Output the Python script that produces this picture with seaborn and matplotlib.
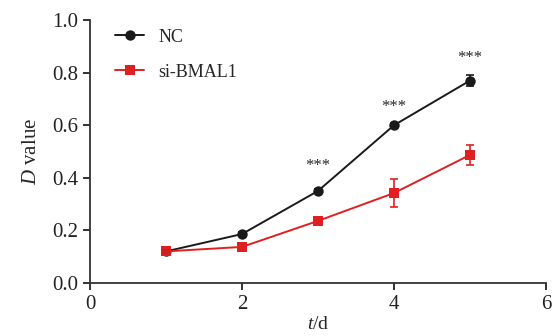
import matplotlib
matplotlib.use("Agg")
import matplotlib.pyplot as plt
import seaborn as sns
import pandas as pd
import numpy as np

days = [1, 2, 3, 4, 5]
nc_values = [0.12, 0.186, 0.35, 0.60, 0.77]
nc_err = [0.005, 0.008, 0.008, 0.008, 0.022]
si_values = [0.12, 0.137, 0.236, 0.342, 0.487]
si_err = [0.005, 0.006, 0.008, 0.053, 0.038]
groups = ["NC", "si-BMAL1"]
stars_days = [3, 4, 5]
stars_y = [0.445, 0.67, 0.855]

sns.set_style("ticks")
plt.rcParams['font.family'] = ['Liberation Serif', 'DejaVu Serif']
plt.rcParams['mathtext.fontset'] = 'custom'
plt.rcParams['mathtext.rm'] = 'Liberation Serif'
plt.rcParams['mathtext.it'] = 'Liberation Serif:italic'

df = pd.DataFrame({
    "t": days * 2,
    "v": nc_values + si_values,
    "g": [groups[0]] * 5 + [groups[1]] * 5,
})

fig = plt.figure(figsize=(5.54, 3.36), dpi=100)
ax = fig.add_axes([0.1625, 0.158, 0.823, 0.782])

palette = {"NC": "#1a1a1a", "si-BMAL1": "#e02020"}
sns.lineplot(data=df, x="t", y="v", hue="g", style="g", markers={"NC": "o", "si-BMAL1": "s"},
             dashes=False, palette=palette, markersize=7.5, linewidth=1.4, ax=ax,
             markeredgewidth=0)
ax.errorbar(days, nc_values, yerr=nc_err, fmt="none", ecolor="#1a1a1a", capsize=3, elinewidth=1.2, capthick=1.2)
ax.errorbar(days, si_values, yerr=si_err, fmt="none", ecolor="#e02020", capsize=3, elinewidth=1.2, capthick=1.2)

for d, y in zip(stars_days, stars_y):
    ax.text(d, y, "***", ha="center", va="center", fontsize=12)

ax.set_xlim(0, 6)
ax.set_ylim(0, 1.0)
ax.set_xticks([0, 2, 4, 6])
ax.set_yticks([0, 0.2, 0.4, 0.6, 0.8, 1.0])
ax.set_yticklabels(["0.0", "0.2", "0.4", "0.6", "0.8", "1.0"])
ax.tick_params(axis="both", labelsize=15, width=1.3, length=5, direction="out", colors="#222222")
for s in ["left", "bottom"]:
    ax.spines[s].set_linewidth(1.3)
    ax.spines[s].set_color("#333333")
sns.despine(ax=ax)

ax.set_xlabel("$\\it{t}$/d", fontsize=14, labelpad=2)
ax.set_ylabel("$\\it{D}$ value", fontsize=15, labelpad=8)

leg = ax.legend(title=None, loc="upper left", bbox_to_anchor=(0.02, 1.03), frameon=False,
                fontsize=13, labelspacing=1.0, handlelength=1.6)

fig.savefig("out.png", dpi=100)
